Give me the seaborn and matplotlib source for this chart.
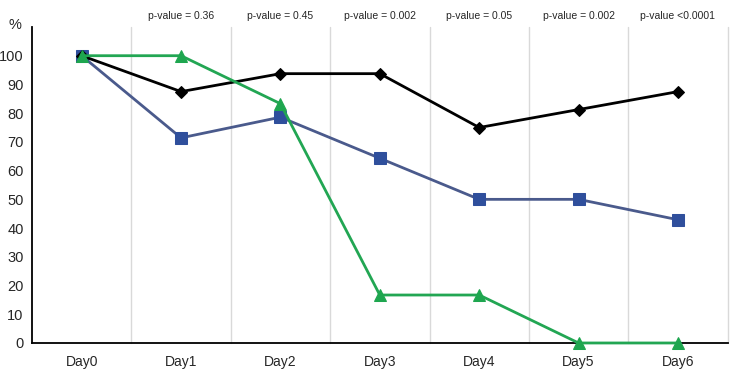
import matplotlib
matplotlib.use("Agg")
import matplotlib.pyplot as plt
import seaborn as sns
import numpy as np
import pandas as pd

days = ["Day0", "Day1", "Day2", "Day3", "Day4", "Day5", "Day6"]
black_vals = [100, 87.5, 93.75, 93.75, 75, 81.25, 87.5]
blue_vals = [100, 71.4, 78.6, 64.3, 50, 50, 42.9]
green_vals = [100, 100, 83.3, 16.7, 16.7, 0, 0]
p_labels = ["p-value = 0.36", "p-value = 0.45", "p-value = 0.002",
            "p-value = 0.05", "p-value = 0.002", "p-value <0.0001"]
y_ticks = [0, 10, 20, 30, 40, 50, 60, 70, 80, 90, 100]

sns.set_style("white")
plt.rcParams['font.family'] = ['Liberation Sans', 'DejaVu Sans']

df = pd.DataFrame({
    'day': np.tile(np.arange(len(days)), 3),
    'value': blue_vals + black_vals + green_vals,
    'group': ['blue'] * 7 + ['black'] * 7 + ['green'] * 7,
})

fig = plt.figure(figsize=(7.35, 3.91), dpi=100)
ax = fig.add_axes([0.0435, 0.1228, 0.9465, 0.8082])

# vertical separators between days (and one at the right edge)
for xv in np.arange(0.5, len(days) + 0.5, 1.0):
    ax.axvline(xv, color='#d9d9d9', lw=1, zorder=0, clip_on=False)

line_colors = {'blue': '#4a5a8c', 'black': '#000000', 'green': '#22a653'}
marker_colors = {'blue': '#2f4f9c', 'black': '#000000', 'green': '#1ea64f'}
markers = {'blue': 's', 'black': 'D', 'green': '^'}
sizes = {'blue': 8, 'black': 6, 'green': 8}

for g in ['blue', 'black', 'green']:
    sub = df[df['group'] == g]
    sns.lineplot(data=sub, x='day', y='value', ax=ax, color=line_colors[g],
                 lw=2, marker=markers[g], markersize=sizes[g],
                 markerfacecolor=marker_colors[g], markeredgecolor=marker_colors[g],
                 clip_on=False, zorder=3, legend=False)

ax.set_xlim(-0.5, len(days) - 0.5)
ax.set_ylim(0, 110)
ax.set_xticks(range(len(days)))
ax.set_xticklabels(days, fontsize=10)
ax.set_yticks(y_ticks)
ax.set_yticklabels([str(t) for t in y_ticks], fontsize=10.5)
ax.tick_params(axis='both', length=0)
ax.tick_params(axis='x', pad=9)
ax.tick_params(axis='y', pad=6)
ax.set_xlabel('')
ax.set_ylabel('')

for s in ['top', 'right']:
    ax.spines[s].set_visible(False)
ax.spines['left'].set_color('#000000')
ax.spines['bottom'].set_color('#000000')
ax.spines['left'].set_linewidth(1.3)
ax.spines['bottom'].set_linewidth(1.3)

for i, lab in enumerate(p_labels):
    ax.text(i + 1, 1.02, lab, transform=ax.get_xaxis_transform(),
            ha='center', va='bottom', fontsize=7.5)

fig.text(0.012, 0.935, '%', fontsize=10.5, ha='left', va='center')

fig.savefig('out.png', dpi=100)
plt.close(fig)
